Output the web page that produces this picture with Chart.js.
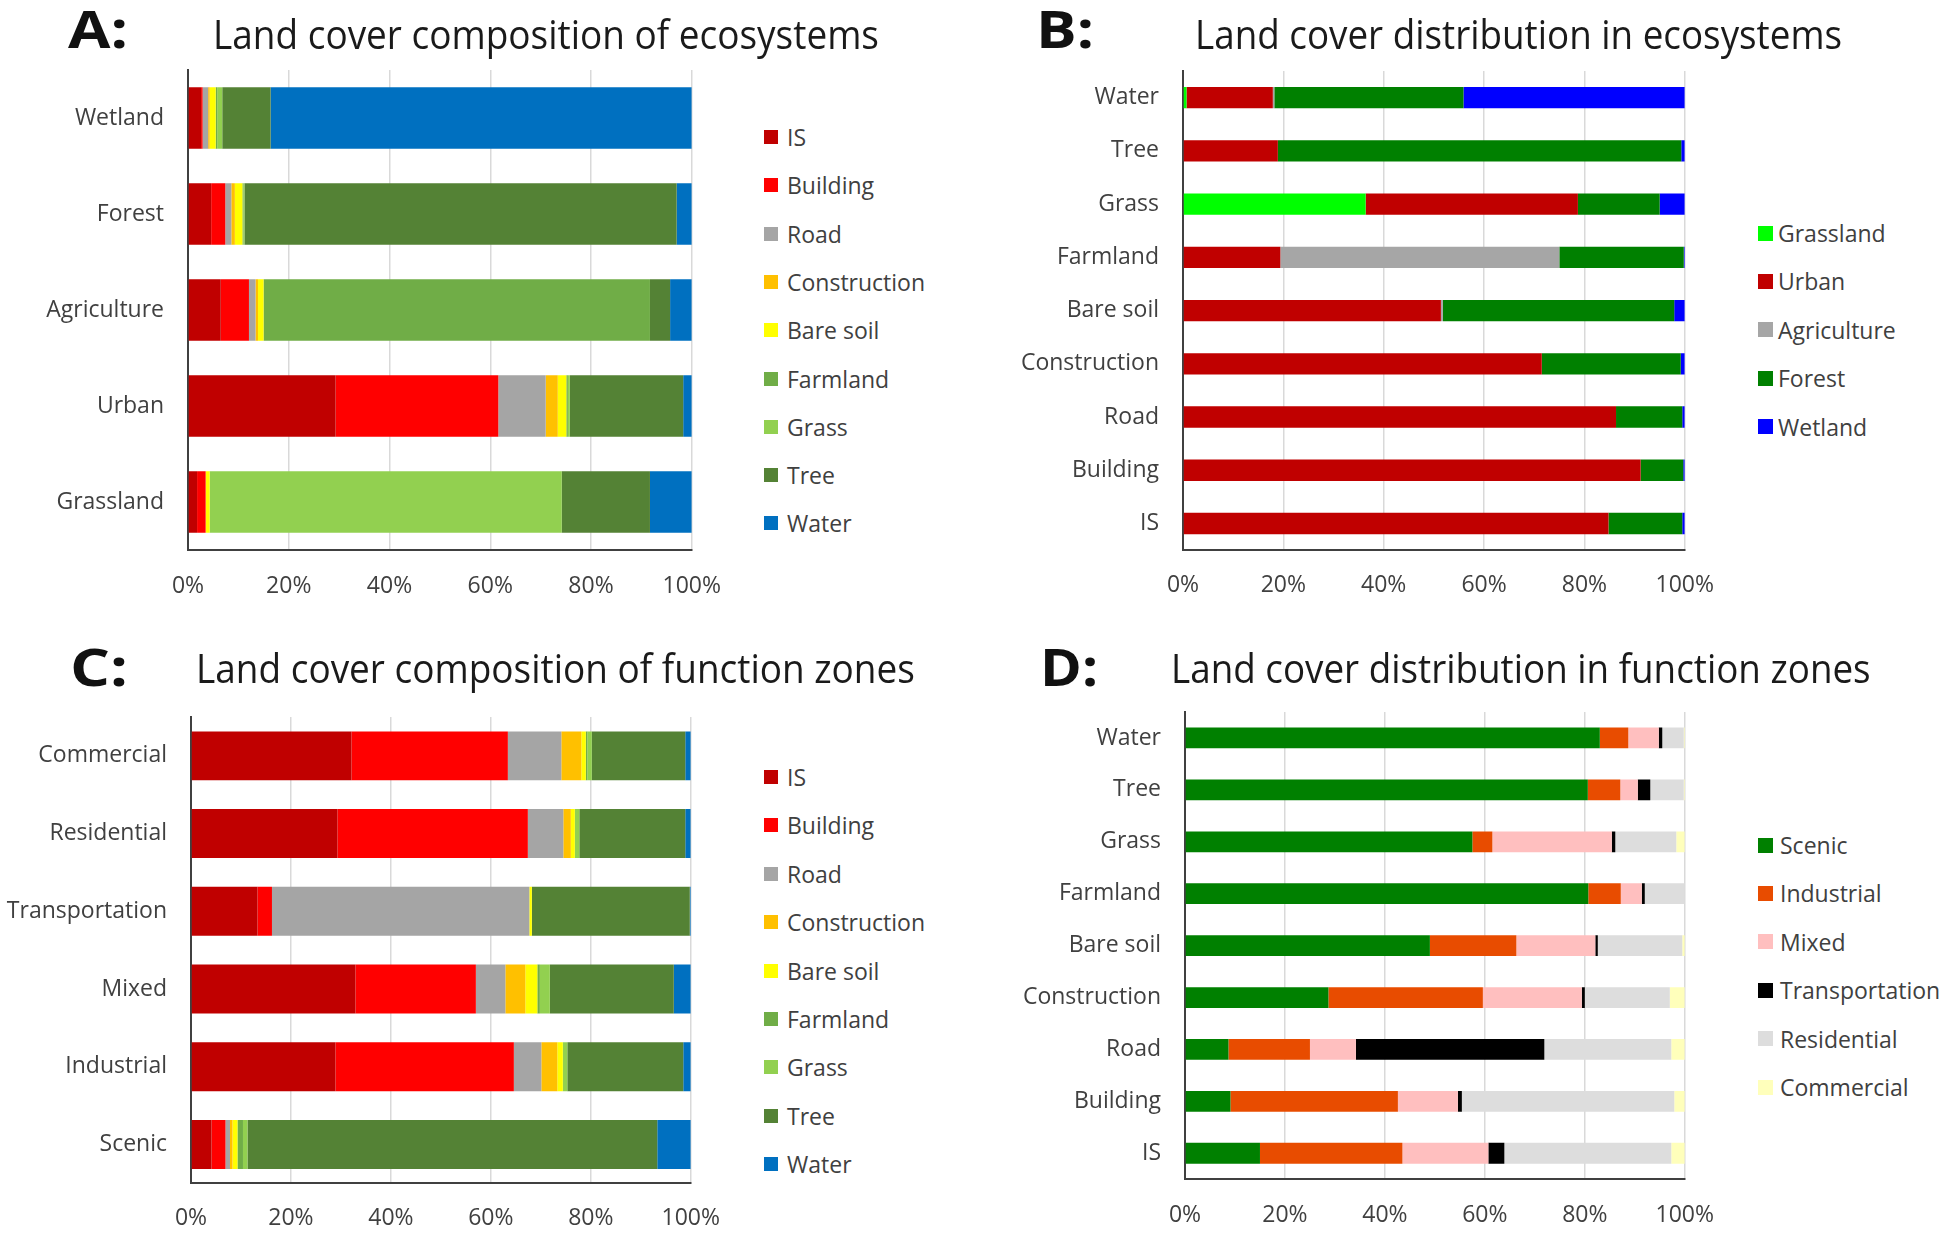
<!DOCTYPE html>
<html>
<head>
<meta charset="utf-8">
<script src="https://cdn.jsdelivr.net/npm/chart.js@4.4.1/dist/chart.umd.min.js"></script>
<style>
body { margin:0; background:#fff; width:1946px; height:1234px; overflow:hidden; position:relative; font-family:"Open Sans", sans-serif; }
canvas { position:absolute; }
.txt { position:absolute; white-space:nowrap; line-height:1; transform-origin:0 0; }
.title { font-size:40px; color:#1a1a1a; }
.letter { font-size:52px; font-weight:bold; color:#111; }
.leg { position:absolute; display:flex; align-items:center; height:30px; font-size:23px; color:#404040; white-space:nowrap; }
.leg i { display:inline-block; flex:none; }
</style>
</head>
<body>
<canvas id="chartA" width="744" height="640" style="left:0px;top:0px"></canvas>
<canvas id="chartB" width="737" height="640" style="left:1000px;top:0px"></canvas>
<canvas id="chartC" width="743" height="594" style="left:0px;top:640px"></canvas>
<canvas id="chartD" width="737" height="594" style="left:1000px;top:640px"></canvas>

<div class="txt letter" data-w="60" style="left:68px;top:2px">A:</div>
<div class="txt letter" data-w="58" style="left:1036px;top:2px">B:</div>
<div class="txt letter" data-w="58" style="left:70px;top:640px">C:</div>
<div class="txt letter" data-w="58" style="left:1040px;top:640px">D:</div>

<div class="txt title" data-w="666" style="left:213px;top:14px">Land cover composition of ecosystems</div>
<div class="txt title" data-w="647" style="left:1195px;top:14px">Land cover distribution in ecosystems</div>
<div class="txt title" data-w="719" style="left:196px;top:648px">Land cover composition of function zones</div>
<div class="txt title" data-w="700" style="left:1171px;top:648px">Land cover distribution in function zones</div>

<script>
// ---- A: composition of ecosystems ----
var eco_labels = ['Wetland', 'Forest', 'Agriculture', 'Urban', 'Grassland'];
var cover_names = ['IS', 'Building', 'Road', 'Construction', 'Bare soil', 'Farmland', 'Grass', 'Tree', 'Water'];
var cover_colors = ['#C00000', '#FF0000', '#A5A5A5', '#FFC000', '#FFFF00', '#70AD47', '#92D050', '#548235', '#0070C0'];

var a_is           = [2.6, 4.6, 6.5, 29.3, 1.8];
var a_building     = [0.3, 2.8, 5.6, 32.3, 1.7];
var a_road         = [1.1, 1.2, 1.3, 9.4, 0.0];
var a_construction = [0.3, 0.7, 0.5, 2.4, 0.0];
var a_baresoil     = [1.2, 1.5, 1.1, 1.7, 0.8];
var a_farmland     = [0.3, 0.2, 76.7, 0.3, 0.0];
var a_grass        = [1.0, 0.2, 0.0, 0.4, 69.9];
var a_tree         = [9.6, 85.8, 4.0, 22.5, 17.5];
var a_water        = [83.6, 3.0, 4.3, 1.7, 8.3];

// ---- B: distribution in ecosystems ----
var cover_labels = ['Water', 'Tree', 'Grass', 'Farmland', 'Bare soil', 'Construction', 'Road', 'Building', 'IS'];
var eco_names = ['Grassland', 'Urban', 'Agriculture', 'Forest', 'Wetland'];
var eco_colors = ['#00FF00', '#C00000', '#A6A6A6', '#008000', '#0000FF'];

var b_grassland   = [0.7, 0, 36.4, 0, 0, 0, 0, 0, 0];
var b_urban       = [17.2, 18.9, 42.3, 19.4, 51.4, 71.5, 86.3, 91.2, 84.8];
var b_agriculture = [0.3, 0, 0, 55.6, 0.4, 0, 0, 0, 0];
var b_forest      = [37.7, 80.4, 16.3, 24.8, 46.1, 27.7, 13.2, 8.5, 14.7];
var b_wetland     = [44.1, 0.7, 5.0, 0.2, 2.1, 0.8, 0.5, 0.3, 0.5];

// ---- C: composition of function zones ----
var zone_labels = ['Commercial', 'Residential', 'Transportation', 'Mixed', 'Industrial', 'Scenic'];

var c_is           = [32.1, 29.3, 13.3, 32.9, 28.9, 4.1];
var c_building     = [31.3, 38.1, 2.9, 24.1, 35.7, 2.8];
var c_road         = [10.7, 7.1, 51.5, 5.9, 5.5, 0.9];
var c_construction = [4.0, 1.5, 0, 4.0, 3.2, 0.5];
var c_baresoil     = [0.9, 0.8, 0.5, 2.4, 1.1, 1.0];
var c_farmland     = [0.3, 0, 0, 0.5, 0, 1.1];
var c_grass        = [0.9, 0.9, 0, 2.0, 0.9, 0.9];
var c_tree         = [18.7, 21.2, 31.6, 24.8, 23.2, 82.0];
var c_water        = [1.1, 1.1, 0.2, 3.4, 1.5, 6.7];

// ---- D: distribution in function zones ----
var zone_names = ['Scenic', 'Industrial', 'Mixed', 'Transportation', 'Residential', 'Commercial'];
var zone_colors = ['#008000', '#E84C00', '#FFBFBF', '#000000', '#DDDDDD', '#FFFFBB'];

var d_scenic      = [83.0, 80.6, 57.5, 80.7, 49.0, 28.7, 8.7, 9.1, 15.0];
var d_industrial  = [5.7, 6.5, 4.0, 6.5, 17.3, 30.9, 16.3, 33.5, 28.5];
var d_mixed       = [6.1, 3.5, 23.9, 4.2, 15.8, 19.8, 9.2, 12.0, 17.2];
var d_transport   = [0.7, 2.5, 0.7, 0.6, 0.5, 0.6, 37.7, 0.8, 3.2];
var d_residential = [4.3, 6.7, 12.2, 8.0, 16.9, 17.0, 25.4, 42.5, 33.4];
var d_commercial  = [0.2, 0.2, 1.7, 0, 0.5, 3.0, 2.7, 2.1, 2.7];

var x_ticks = [0, 20, 40, 60, 80, 100];

var label_font = { family: 'Open Sans', size: 23 };
var text_grey = '#404040';

function make_panel(id, labels, series, names, colors, box) {
    var datasets = [];
    for (var i = 0; i < series.length; i++) {
        datasets.push({
            label: names[i],
            data: series[i],
            backgroundColor: colors[i],
            borderWidth: 0,
            barPercentage: box.bar,
            categoryPercentage: 1
        });
    }
    var canvas = document.getElementById(id);
    var chart = new Chart(canvas, {
        type: 'bar',
        data: { labels: labels, datasets: datasets },
        options: {
            indexAxis: 'y',
            responsive: false,
            animation: false,
            layout: { padding: { top: box.top, right: 0, left: 0, bottom: 0 } },
            plugins: { legend: { display: false }, tooltip: { enabled: false } },
            scales: {
                x: {
                    stacked: true,
                    min: 0,
                    max: 100,
                    afterBuildTicks: function (s) {
                        s.ticks = x_ticks.map(function (v) { return { value: v }; });
                    },
                    grid: { color: '#d9d9d9', lineWidth: 1.5, drawTicks: false },
                    border: { display: true, color: text_grey, width: 2 },
                    ticks: {
                        padding: box.xpad,
                        color: text_grey,
                        font: label_font,
                        maxRotation: 0,
                        callback: function (v) { return v + '%'; }
                    },
                    afterFit: function (s) { s.height = box.xh; }
                },
                y: {
                    stacked: true,
                    grid: { display: false, drawTicks: false },
                    border: { display: true, color: text_grey, width: 2 },
                    ticks: { padding: 24, color: text_grey, font: label_font },
                    afterFit: function (s) { s.width = box.yw; }
                }
            }
        }
    });
    // the "100%" label eats room on the right, so widen the canvas until the plot ends where it should
    var h = canvas.height;
    for (var n = 0; n < 4; n++) {
        var d = box.right - chart.chartArea.right;
        if (Math.abs(d) < 0.5) break;
        chart.resize(Math.round(chart.width + d), h);
    }
    return chart;
}

function make_legend(names, colors, x, y0, step, size, textx) {
    for (var i = 0; i < names.length; i++) {
        var d = document.createElement('div');
        d.className = 'leg';
        d.style.left = x + 'px';
        d.style.top = (y0 + i * step - 15) + 'px';
        var m = document.createElement('i');
        m.style.width = size + 'px';
        m.style.height = size + 'px';
        m.style.background = colors[i];
        m.style.marginRight = (textx - x - size) + 'px';
        d.appendChild(m);
        d.appendChild(document.createTextNode(names[i]));
        document.body.appendChild(d);
    }
}

// box.right is the 100% line, measured from the canvas' left edge
make_panel('chartA', eco_labels,
    [a_is, a_building, a_road, a_construction, a_baresoil, a_farmland, a_grass, a_tree, a_water],
    cover_names, cover_colors,
    { top: 70, right: 692, yw: 188, xh: 90, xpad: 23, bar: 0.64 });

make_panel('chartB', cover_labels,
    [b_grassland, b_urban, b_agriculture, b_forest, b_wetland],
    eco_names, eco_colors,
    { top: 71, right: 685, yw: 183, xh: 89, xpad: 22, bar: 0.4 });

make_panel('chartC', zone_labels,
    [c_is, c_building, c_road, c_construction, c_baresoil, c_farmland, c_grass, c_tree, c_water],
    cover_names, cover_colors,
    { top: 77, right: 691, yw: 191, xh: 49, xpad: 21, bar: 0.63 });

make_panel('chartD', cover_labels,
    [d_scenic, d_industrial, d_mixed, d_transport, d_residential, d_commercial],
    zone_names, zone_colors,
    { top: 72, right: 685, yw: 185, xh: 54, xpad: 22, bar: 0.4 });

make_legend(cover_names, cover_colors, 764, 137, 48.3, 14, 787);
make_legend(eco_names, eco_colors, 1758, 233, 48.4, 15, 1778);
make_legend(cover_names, cover_colors, 764, 777, 48.4, 14, 787);
make_legend(zone_names, zone_colors, 1758, 845, 48.4, 15, 1780);

// squeeze titles to the widths they take in the figure
var fits = document.querySelectorAll('.txt');
for (var k = 0; k < fits.length; k++) {
    var w = fits[k].getBoundingClientRect().width;
    var target = parseFloat(fits[k].getAttribute('data-w'));
    fits[k].style.transform = 'scaleX(' + (target / w).toFixed(3) + ')';
}
</script>
</body>
</html>
